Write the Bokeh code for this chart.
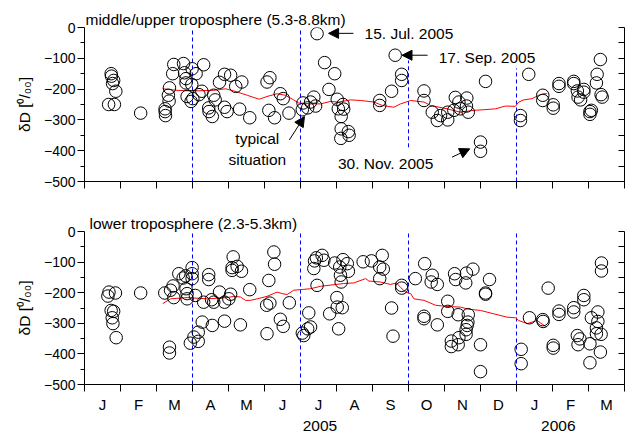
from bokeh.plotting import figure
from bokeh.layouts import column
from bokeh.models import LinearAxis, FixedTicker, Range1d, Label, Arrow, NormalHead
from bokeh.embed import file_html
from bokeh.resources import INLINE

FONT = "Liberation Sans"

# ---------------- data ----------------
month_labels = ["J", "F", "M", "A", "M", "J", "J", "A", "S", "O", "N", "D", "J", "F", "M"]
year_labels = ["2005", "2006"]
year_pos = [6.54, 13.16]
y_ticks = [-500, -400, -300, -200, -100, 0]
y_minor = [-450, -350, -250, -150, -50]
season_bounds = [3, 6, 9, 12]
top_bound_y0 = [-500, -500, -389, -500]
top_bound_y1 = [0, 0, -107, -133]
bot_bound_y0 = [-500, -500, -500, -500]
bot_bound_y1 = [0, 0, 0, 0]

# middle/upper troposphere: time (months since 1 Jan 2005), deltaD (permil)
top_month = [0.67, 0.74, 0.75, 0.78, 0.81, 0.83, 0.87,
             1.56,
             2.24, 2.24, 2.25, 2.33, 2.35, 2.36, 2.45, 2.48, 2.75, 2.78, 2.82, 2.82, 2.85, 2.96, 2.98, 2.99, 3.01,
             3.10, 3.18, 3.26, 3.31, 3.45, 3.46, 3.55, 3.59, 3.63, 3.75, 3.89, 4.06, 3.89, 3.96,
             4.20, 4.37, 4.31, 4.59,
             5.07, 5.15, 5.12, 5.28, 5.44, 5.52, 5.68, 6.05,
             6.07, 6.20, 6.28, 6.37, 6.42, 6.46, 6.67, 6.79, 6.95, 7.02, 7.18, 7.05, 7.20, 7.13,
             7.13, 7.33, 7.12, 7.35,
             8.20, 8.20, 8.53, 8.81, 8.81, 8.63,
             9.43, 9.43, 9.66, 9.80, 9.89,
             10.09, 10.09, 10.26, 10.30, 10.40, 10.44, 10.62, 10.61, 10.66,
             11.00, 11.00, 11.14,
             12.11, 12.11, 12.34, 12.73, 12.73, 13.02, 13.02,
             13.18, 13.18, 13.59, 13.59, 13.69, 13.71, 13.78, 13.87, 13.87,
             14.04, 14.08, 14.04, 14.22, 14.24, 14.33, 14.35, 14.38]
top_dD = [-250, -150, -158, -182, -172, -250, -207,
          -278,
          -264, -273, -286, -220, -239, -196, -150, -120, -117, -147, -180, -166, -224, -240, -185, -134, -231,
          -150, -218, -207, -121, -261, -273, -289, -220, -235, -178, -152, -155, -259, -273,
          -191, -177, -265, -293,
          -177, -163, -269, -293, -215, -231, -278, -267,
          -245, -261, -242, -226, -255, -20, -114, -201, -150, -233, -250, -264, -265, -289,
          -329, -338, -360, -350,
          -237, -253, -207, -152, -172, -90,
          -206, -237, -275, -302, -286,
          -275, -300, -269, -227, -242, -264, -229, -255, -275,
          -372, -402, -175,
          -286, -302, -152, -220, -237, -251, -262,
          -182, -191, -175, -182, -206, -226, -235, -201, -210,
          -273, -269, -282, -180, -152, -104, -218, -226]

# running mean, middle/upper troposphere
top_mean_month = [2.17, 2.57, 2.99, 3.59, 3.92, 4.15, 4.52, 4.85, 5.07, 5.35, 5.58, 5.81, 5.95,
                  6.28, 6.56, 6.83, 7.06, 7.39, 7.67, 8.04, 8.27, 8.59, 8.78, 9.06, 9.43, 9.61,
                  10.07, 10.44, 10.81, 11.09, 11.42, 11.69, 11.97, 12.06, 12.20, 12.43, 12.62, 12.76, 12.85]
top_mean_dD = [-199, -204, -206, -204, -199, -206, -220, -233, -224, -215, -220, -235, -245,
               -248, -248, -240, -242, -235, -237, -242, -253, -259, -248, -237, -242, -253,
               -264, -275, -269, -267, -264, -255, -256, -242, -235, -231, -220, -215, -215]

# lower troposphere
bot_month = [0.68, 0.65, 0.86, 0.74, 0.81, 0.77, 0.79, 0.88,
             1.56,
             2.23, 2.39, 2.46, 2.48, 2.62, 2.74, 2.81, 2.82, 2.85, 2.85, 2.99, 2.99, 2.99, 2.36, 2.36, 2.94,
             3.04, 3.16, 3.16, 3.27, 3.08, 3.31, 3.45, 3.45, 3.55, 3.59, 3.53, 3.75, 3.89, 3.89, 4.06, 4.01,
             4.13, 4.10, 4.10, 4.24, 4.36, 4.33, 4.59,
             5.06, 5.12, 5.15, 5.07, 5.26, 5.28, 5.44, 5.52, 5.69,
             6.05, 6.09, 6.23, 6.20, 6.28, 6.37, 6.39, 6.44, 6.46, 6.60, 6.65, 6.95, 7.01, 6.81, 7.06,
             7.02, 7.16, 7.09, 7.18, 7.30, 7.33, 7.11, 7.13,
             7.74, 7.97, 8.20, 8.27, 8.30, 8.20, 8.53, 8.57, 8.81, 8.81,
             9.19, 9.45, 9.43, 9.43, 9.66, 9.63, 9.80, 9.80, 10.09, 10.09,
             10.19, 10.19, 10.40, 10.38, 10.28, 10.31, 10.38, 10.61, 10.59, 10.79, 10.66, 10.63, 10.60, 10.60, 10.65,
             11.00, 11.00, 11.14, 11.14, 11.25,
             12.13, 12.13, 12.36, 12.73, 12.74, 12.88,
             13.02, 13.02, 13.18, 13.18, 13.59, 13.59, 13.87, 13.87, 13.69, 13.71, 13.76,
             14.04, 14.04, 14.08, 14.26, 14.26, 14.22, 14.22, 14.35, 14.33, 14.36, 14.36]
bot_dD = [-198, -211, -201, -258, -261, -282, -301, -347,
          -201,
          -201, -192, -178, -216, -138, -152, -145, -187, -203, -220, -118, -138, -154, -378, -397, -365,
          -345, -329, -359, -296, -209, -231, -141, -157, -307, -231, -223, -198, -231, -293, -205, -220,
          -83, -118, -127, -114, -130, -305, -190,
          -241, -160, -234, -334, -67, -107, -287, -310, -233,
          -332, -340, -266, -318, -312, -121, -96, -86, -176, -78, -94, -103, -216, -269, -318,
          -247, -249, -116, -92, -105, -130, -143, -165,
          -99, -96, -116, -78, -123, -154, -250, -342, -176, -185,
          -154, -105, -277, -285, -143, -165, -173, -305, -228, -261,
          -358, -376, -347, -370, -138, -157, -272, -136, -168, -123, -272, -307, -321, -336, -296,
          -458, -370, -201, -205, -157,
          -385, -432, -282, -288, -294, -185,
          -372, -381, -260, -271, -249, -263, -209, -223, -340, -370, -351,
          -367, -429, -282, -263, -294, -315, -334, -336, -394, -103, -129]

bot_mean_month = [2.17, 2.39, 2.85, 3.41, 3.96, 4.15, 4.33, 4.47, 4.61, 4.80, 5.07, 5.35, 5.49, 5.63,
                  5.81, 6.09, 6.28, 6.56, 7.20, 7.48, 7.81, 7.90, 8.22, 8.50, 8.67, 8.78, 8.92, 9.06,
                  9.15, 9.43, 9.75, 10.07, 10.44, 10.67, 11.00, 11.37, 11.74, 11.97, 12.06, 12.30,
                  12.57, 12.83]
bot_mean_dD = [-236, -220, -216, -220, -216, -212, -214, -225, -225, -220, -212, -198, -203, -206,
               -192, -189, -187, -179, -170, -168, -154, -162, -165, -173, -168, -183, -198, -203,
               -220, -225, -241, -245, -247, -254, -258, -269, -280, -282, -291, -301,
               -291, -312]

month_edges = list(range(16))
month_centers = [i + 0.5 for i in range(15)]
y_all = sorted(y_ticks + y_minor)


def make_panel(title, title_offset, frame_h, border_top, border_bottom, show_months):
    p = figure(frame_width=540, frame_height=frame_h,
               x_range=Range1d(0, 15), y_range=Range1d(-500, 0),
               output_backend="svg", toolbar_location=None,
               x_axis_location=None, y_axis_location=None, title=title,
               min_border_left=84, min_border_right=6,
               min_border_top=border_top, min_border_bottom=border_bottom)
    p.grid.visible = False
    p.outline_line_color = None
    p.title.align = "left"
    p.title.offset = title_offset
    p.title.standoff = 0
    p.title.text_font = FONT
    p.title.text_font_size = "15.5px"
    p.title.text_font_style = "normal"
    p.title.text_color = "black"

    left = LinearAxis(ticker=FixedTicker(ticks=y_ticks, minor_ticks=y_minor),
                      axis_label="δD [⁰/₀₀]",
                      axis_label_text_font=FONT, axis_label_text_font_size="15.5px",
                      axis_label_text_font_style="normal", axis_label_text_color="black",
                      axis_label_standoff=8,
                      major_label_text_font=FONT, major_label_text_font_size="14px",
                      major_label_text_color="black", major_label_standoff=2,
                      major_tick_in=0, major_tick_out=7, minor_tick_in=0, minor_tick_out=4,
                      axis_line_color="black", major_tick_line_color="black",
                      minor_tick_line_color="black")
    p.add_layout(left, "left")
    right = LinearAxis(ticker=FixedTicker(ticks=[], minor_ticks=y_all),
                       minor_tick_in=6, minor_tick_out=0, major_tick_in=0, major_tick_out=0,
                       major_label_standoff=0,
                       axis_line_color="black", minor_tick_line_color="black")
    p.add_layout(right, "right")

    if show_months:
        bottom = LinearAxis(ticker=FixedTicker(ticks=month_centers, minor_ticks=month_edges),
                            major_label_overrides={c: t for c, t in zip(month_centers, month_labels)},
                            major_tick_in=0, major_tick_out=0, minor_tick_in=0, minor_tick_out=7,
                            major_label_text_font=FONT, major_label_text_font_size="15px",
                            major_label_text_color="black", major_label_standoff=4,
                            axis_line_color="black", minor_tick_line_color="black")
        p.add_layout(bottom, "below")
        years = LinearAxis(ticker=FixedTicker(ticks=year_pos, minor_ticks=[]),
                           major_label_overrides={c: t for c, t in zip(year_pos, year_labels)},
                           major_tick_in=0, major_tick_out=0, minor_tick_in=0, minor_tick_out=0,
                           major_label_text_font=FONT, major_label_text_font_size="15.5px",
                           major_label_text_color="black", major_label_standoff=5,
                           axis_line_color=None, major_tick_line_color=None,
                           minor_tick_line_color=None)
        p.add_layout(years, "below")
    else:
        bottom = LinearAxis(ticker=FixedTicker(ticks=[], minor_ticks=month_edges),
                            major_tick_in=0, major_tick_out=0, minor_tick_in=0, minor_tick_out=7,
                            major_label_standoff=0,
                            axis_line_color="black", minor_tick_line_color="black")
        p.add_layout(bottom, "below")
    return p


def add_marks(p, months, vals, mean_m, mean_v, y0, y1):
    p.segment(x0=season_bounds, y0=y0, x1=season_bounds, y1=y1,
              line_color="blue", line_dash="4 3", line_width=1)
    p.line(mean_m, mean_v, line_color="red", line_width=1)
    p.scatter(months, vals, marker="circle", size=12.5, fill_alpha=0,
              line_color="black", line_width=1)


# ---------------- top panel ----------------
p1 = make_panel("middle/upper troposphere (5.3-8.8km)", 1, 154, 27, 24, False)
add_marks(p1, top_month, top_dD, top_mean_month, top_mean_dD, top_bound_y0, top_bound_y1)

ann = [("15. Jul. 2005", 7.78, -20, "left"), ("17. Sep. 2005", 9.84, -98, "left"),
       ("30. Nov. 2005", 7.04, -440, "left"), ("typical", 4.80, -362, "center"),
       ("situation", 4.80, -429, "center")]
for t, ax, ay, al in ann:
    p1.add_layout(Label(x=ax, y=ay, text=t, text_font=FONT, text_font_size="15.5px",
                        text_color="black", text_baseline="middle", text_align=al))

arrows = [(7.47, -19, 6.78, -19), (9.53, -90, 8.82, -90),
          (10.21, -421, 10.70, -394), (5.69, -365, 6.11, -289)]
for xs, ys, xe, ye in arrows:
    p1.add_layout(Arrow(end=NormalHead(size=10, fill_color="black", line_color="black"),
                        x_start=xs, y_start=ys, x_end=xe, y_end=ye,
                        line_color="black", line_width=1))

# ---------------- bottom panel ----------------
p2 = make_panel("lower troposphere (2.3-5.3km)", 5, 153, 26, 49, True)
add_marks(p2, bot_month, bot_dD, bot_mean_month, bot_mean_dD, bot_bound_y0, bot_bound_y1)

layout = column(p1, p2, spacing=0)
open("out.html", "w").write(file_html(layout, INLINE))
